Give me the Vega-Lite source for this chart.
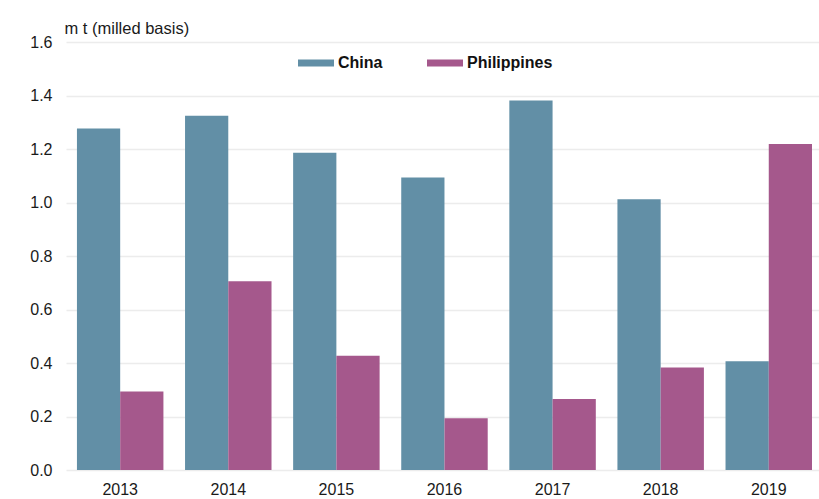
{
  "$schema": "https://vega.github.io/schema/vega-lite/v6.json",
  "width": 753,
  "height": 428,
  "autosize": {"type": "none"},
  "padding": {"left": 66, "top": 42, "right": 0, "bottom": 29},
  "background": "#ffffff",
  "data": {
    "values": [
      {"year": "2013", "country": "China", "value": 1.277},
      {"year": "2013", "country": "Philippines", "value": 0.293},
      {"year": "2014", "country": "China", "value": 1.324},
      {"year": "2014", "country": "Philippines", "value": 0.706},
      {"year": "2015", "country": "China", "value": 1.186},
      {"year": "2015", "country": "Philippines", "value": 0.427},
      {"year": "2016", "country": "China", "value": 1.093},
      {"year": "2016", "country": "Philippines", "value": 0.193},
      {"year": "2017", "country": "China", "value": 1.381},
      {"year": "2017", "country": "Philippines", "value": 0.265},
      {"year": "2018", "country": "China", "value": 1.012},
      {"year": "2018", "country": "Philippines", "value": 0.383},
      {"year": "2019", "country": "China", "value": 0.407},
      {"year": "2019", "country": "Philippines", "value": 1.219}
    ]
  },
  "mark": {"type": "bar"},
  "encoding": {
    "x": {
      "field": "year",
      "type": "nominal",
      "scale": {"paddingInner": 0.2, "paddingOuter": 0.083, "align": 0.61},
      "axis": {
        "title": null,
        "labelAngle": 0,
        "labelPadding": 11,
        "ticks": false,
        "domain": false,
        "grid": false,
        "labelFont": "Liberation Sans",
        "labelFontSize": 16,
        "labelColor": "#1a1a1a"
      }
    },
    "xOffset": {"field": "country", "type": "nominal", "sort": ["China", "Philippines"]},
    "y": {
      "field": "value",
      "type": "quantitative",
      "scale": {"domain": [0, 1.6], "nice": false},
      "axis": {
        "title": "m t (milled basis)",
        "titleAngle": 0,
        "titleAlign": "left",
        "titleBaseline": "bottom",
        "titleX": -2,
        "titleY": -6,
        "titleFont": "Liberation Sans",
        "titleFontSize": 16.5,
        "titleFontWeight": "normal",
        "titleColor": "#1a1a1a",
        "values": [0, 0.2, 0.4, 0.6, 0.8, 1.0, 1.2, 1.4, 1.6],
        "format": ".1f",
        "ticks": false,
        "domain": false,
        "labelPadding": 14,
        "labelFont": "Liberation Sans",
        "labelFontSize": 16,
        "labelColor": "#1a1a1a",
        "grid": true,
        "gridColor": "#ececec",
        "gridWidth": 1.5
      }
    },
    "color": {
      "field": "country",
      "type": "nominal",
      "scale": {"domain": ["China", "Philippines"], "range": ["#628fa6", "#a5588c"]},
      "legend": {
        "title": null,
        "orient": "none",
        "direction": "horizontal",
        "legendX": 232,
        "legendY": 3,
        "symbolType": "M-1,-0.19H1V0.19H-1Z",
        "symbolSize": 1296,
        "symbolStrokeWidth": 0,
        "labelOffset": 4,
        "columnPadding": 44,
        "labelFont": "Liberation Sans",
        "labelFontSize": 16,
        "labelFontWeight": "bold",
        "labelColor": "#111111"
      }
    }
  },
  "config": {
    "view": {"stroke": null}
  }
}
